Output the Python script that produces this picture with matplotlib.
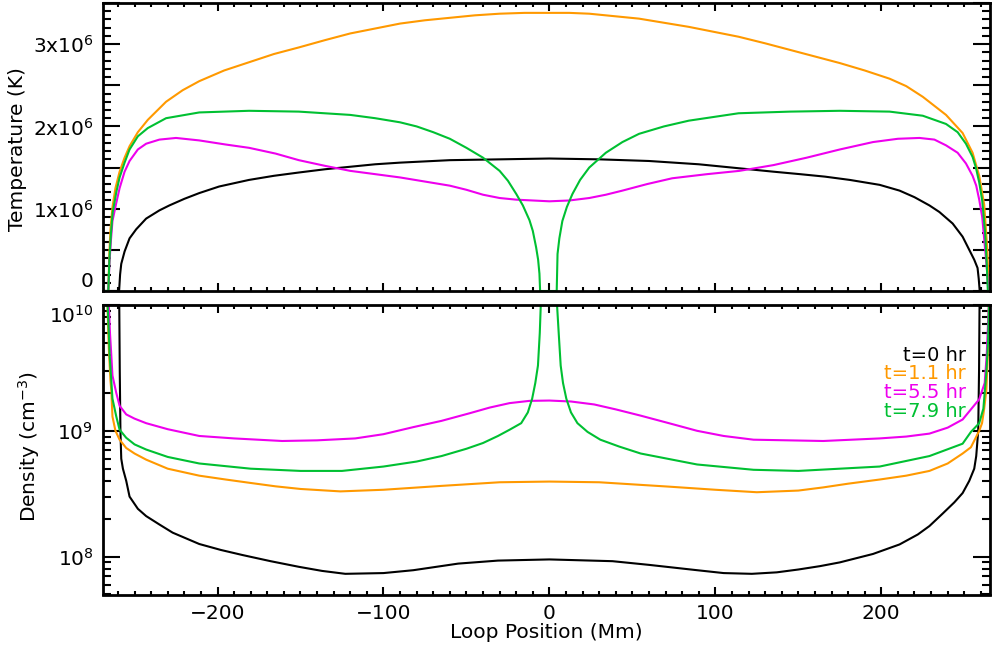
import numpy as np
import matplotlib
matplotlib.use('Agg')
import matplotlib.pyplot as plt
from matplotlib.ticker import MultipleLocator, FuncFormatter, LogLocator, NullFormatter

plt.rcParams['font.family'] = ['DejaVu Sans']
plt.rcParams['mathtext.default'] = 'regular'

# ---- temperature (MK) vs loop position (Mm) ----
x_T_black = [-269, -259.3, -258.7, -258, -256, -253, -249, -243, -235, -229, -220, -211, -199, -181, -166, -151, -135, -120, -105, -90, -60, -30, 0,
             30, 60, 90, 105, 120, 135, 151, 166, 181, 199, 211, 220, 229, 235, 243, 249, 253, 256, 258, 258.7, 259.3, 265.5]
T_black = [0, 0, 0.2, 0.33, 0.48, 0.64, 0.75, 0.88, 0.98, 1.04, 1.12, 1.19, 1.27, 1.35, 1.40, 1.44, 1.48, 1.51, 1.54, 1.56, 1.59, 1.60, 1.61,
           1.60, 1.58, 1.54, 1.51, 1.48, 1.45, 1.42, 1.39, 1.35, 1.29, 1.22, 1.14, 1.04, 0.96, 0.82, 0.66, 0.50, 0.38, 0.28, 0.15, 0, 0]

x_T_orange = [-269, -265.8, -265.2, -264.5, -263.3, -261.5, -259, -256, -253, -248, -242, -231, -221, -211, -196, -181, -166, -151, -135, -120,
              -105, -90, -75, -60, -45, -30, -15, 0, 12, 24, 39, 54, 69, 84, 99, 114, 130, 145, 160, 175, 190, 205, 215, 225, 239, 249,
              255, 259, 262, 263.9, 264.8, 265.5]
T_orange = [0, 0, 0.45, 0.75, 1.02, 1.25, 1.45, 1.62, 1.76, 1.93, 2.08, 2.30, 2.44, 2.55, 2.68, 2.78, 2.88, 2.96, 3.05, 3.13,
            3.19, 3.25, 3.29, 3.32, 3.35, 3.37, 3.38, 3.38, 3.38, 3.37, 3.34, 3.31, 3.26, 3.21, 3.15, 3.09, 3.01, 2.93, 2.85, 2.77, 2.68, 2.58, 2.49, 2.36, 2.14, 1.92,
            1.68, 1.40, 1.05, 0.50, 0, 0]

x_T_magenta = [-269, -265.8, -265.1, -264.2, -263.3, -261, -259, -256, -253, -248, -243, -235, -225, -211, -195, -181, -165, -151, -135, -120,
               -105, -90, -75, -60, -50, -40, -30, -20, -10, 0, 12, 24, 34, 44, 59, 74, 95, 114.5, 135, 155, 175, 195, 210, 223, 232, 239,
               246, 251, 255, 257.2, 259, 260.8, 262.6, 263.9, 264.5, 265.5]
T_magenta = [0, 0, 0.35, 0.62, 0.85, 1.07, 1.25, 1.45, 1.58, 1.72, 1.79, 1.84, 1.86, 1.83, 1.78, 1.74, 1.67, 1.59, 1.52, 1.46,
             1.42, 1.38, 1.33, 1.28, 1.23, 1.17, 1.13, 1.11, 1.10, 1.09, 1.10, 1.13, 1.17, 1.22, 1.30, 1.37, 1.42, 1.46, 1.53, 1.62, 1.72, 1.81, 1.85, 1.86, 1.84, 1.77,
             1.68, 1.55, 1.40, 1.28, 1.11, 0.90, 0.50, 0.20, 0, 0]

x_T_green = [-269, -265.8, -265.1, -264.2, -263.2, -261, -259, -256, -253, -248, -242, -231, -211, -181, -151, -120, -105, -90, -80, -70, -60, -50, -40,
             -30, -25, -20, -16, -12, -10, -8, -6.8, -6.0, -5.6, 4.4, 4.9, 6, 7.8, 10.5, 13.9, 18.5, 24, 34, 44, 54, 69, 84, 114, 145, 175, 205, 225, 239,
             246, 251, 255, 257, 259, 260.8, 262.6, 263.6, 264.2, 265.5]
T_green = [0, 0, 0.4, 0.7, 0.95, 1.2, 1.38, 1.56, 1.72, 1.88, 1.98, 2.10, 2.17, 2.19, 2.18, 2.14, 2.10, 2.05, 2.00, 1.93, 1.85, 1.74, 1.62,
           1.46, 1.34, 1.18, 1.04, 0.86, 0.73, 0.53, 0.38, 0.21, 0, 0, 0.45, 0.64, 0.85, 1.02, 1.18, 1.35, 1.50, 1.68, 1.81, 1.91, 2.00, 2.07, 2.16, 2.18, 2.19, 2.18, 2.13, 2.03,
           1.93, 1.79, 1.63, 1.50, 1.32, 1.10, 0.70, 0.30, 0, 0]

# ---- density (cm^-3) vs loop position (Mm) ----
x_n_black = [-269, -259.5, -259.2, -258.9, -258.5, -258, -257, -255, -253, -248, -243, -235, -227, -211, -198, -185, -168, -151, -137, -123, -100, -82, -55, -31, 0,
             38, 60, 89, 105, 122, 137, 150, 163, 175, 195, 211, 222, 229, 237, 244, 249, 253, 256, 257.2, 258.4, 258.9, 259.2, 265.5]
n_black = [2e11, 2e10, 1e10, 3e9, 1.0e9, 6.0e8, 5.0e8, 4.0e8, 3.0e8, 2.4e8, 2.1e8, 1.8e8, 1.55e8, 1.26e8, 1.13e8, 1.03e8, 9.2e7, 8.3e7, 7.7e7, 7.3e7, 7.4e7, 7.8e7, 8.8e7, 9.3e7, 9.5e7,
           9.2e7, 8.6e7, 7.8e7, 7.4e7, 7.3e7, 7.5e7, 7.9e7, 8.4e7, 9.0e7, 1.05e8, 1.25e8, 1.5e8, 1.75e8, 2.2e8, 2.7e8, 3.2e8, 4.0e8, 5.0e8, 6.3e8, 1.0e9, 3e9, 1e10, 2e11]

x_n_orange = [-269, -266.3, -265.5, -264.5, -264, -263.3, -261.5, -259, -255, -250, -243, -230, -211, -195, -180, -165, -150, -126, -100, -65, -30, 0,
              30, 72, 100, 125, 150, 165, 180, 199, 215, 229, 240, 249, 254, 259, 260.7, 262, 263.3, 264.2, 264.8, 265.5]
n_orange = [1e11, 1e10, 4.5e9, 2.5e9, 2.1e9, 1.3e9, 1.0e9, 8.5e8, 7.3e8, 6.6e8, 5.9e8, 5.0e8, 4.4e8, 4.1e8, 3.85e8, 3.62e8, 3.45e8, 3.3e8, 3.4e8, 3.65e8, 3.9e8, 3.95e8,
            3.9e8, 3.6e8, 3.4e8, 3.25e8, 3.35e8, 3.55e8, 3.8e8, 4.1e8, 4.4e8, 4.8e8, 5.5e8, 6.6e8, 7.4e8, 1.0e9, 1.15e9, 1.5e9, 2.1e9, 4e9, 1e10, 5e10]

x_n_magenta = [-269, -265.5, -264.8, -264, -263.3, -261, -259, -255, -250, -243, -230, -211, -190, -161, -140, -117, -100, -82, -65, -48, -36, -24, -12, 0,
               13, 27, 40, 55, 72, 89, 105, 123, 165, 199, 215, 229, 240, 249, 254, 259, 262.3, 263.5, 264.8, 265.5]
n_magenta = [1e11, 1e10, 6e9, 4e9, 2.75e9, 2.0e9, 1.58e9, 1.35e9, 1.25e9, 1.15e9, 1.03e9, 9.1e8, 8.7e8, 8.3e8, 8.4e8, 8.7e8, 9.4e8, 1.07e9, 1.2e9, 1.38e9, 1.53e9, 1.66e9, 1.73e9, 1.74e9,
             1.71e9, 1.62e9, 1.48e9, 1.32e9, 1.15e9, 1.0e9, 9.1e8, 8.5e8, 8.3e8, 8.7e8, 9.0e8, 9.5e8, 1.06e9, 1.23e9, 1.48e9, 1.78e9, 2.4e9, 4e9, 1e10, 5e10]

x_n_green = [-269, -266.2, -265.5, -265, -264, -263.3, -261, -259, -255, -250, -243, -230, -211, -180, -150, -125, -100, -80, -65, -50, -40, -31, -24, -17, -13, -10.4, -8.5, -6.9, -5.8, -5.2, -5.0,
             4.3, 4.6, 5.6, 6.8, 8.2, 10.2, 13, 16.9, 23, 30.7, 42, 55, 89, 123, 150, 175, 199, 229, 249, 254, 259, 261.5, 263.3, 264.3, 264.9, 265.5]
n_green = [1e11, 1e10, 6e9, 4e9, 2.5e9, 1.8e9, 1.3e9, 1.02e9, 8.8e8, 7.8e8, 7.1e8, 6.2e8, 5.5e8, 5.0e8, 4.8e8, 4.8e8, 5.2e8, 5.7e8, 6.3e8, 7.2e8, 8.0e8, 9.1e8, 1.02e9, 1.15e9, 1.4e9, 1.8e9, 2.4e9, 3.3e9, 6e9, 1e10, 5e10,
           5e10, 1e10, 6e9, 3.3e9, 2.4e9, 1.8e9, 1.4e9, 1.15e9, 9.8e8, 8.5e8, 7.5e8, 6.6e8, 5.4e8, 4.9e8, 4.8e8, 5.0e8, 5.2e8, 6.3e8, 7.9e8, 9.8e8, 1.15e9, 1.5e9, 2.9e9, 5e9, 1e10, 5e10]

labels = ['t=0 hr', 't=1.1 hr', 't=5.5 hr', 't=7.9 hr']
colors = ['black', '#ff9900', '#ee00ee', '#00c032']

fig = plt.figure(figsize=(9.92, 6.55), dpi=100)
ax1 = fig.add_axes([103 / 992, 1 - 291 / 655, 887 / 992, 288 / 655])
ax2 = fig.add_axes([103 / 992, 1 - 594.5 / 655, 887 / 992, 289.5 / 655])

lw = 1.5
ax1.plot(x_T_black, np.array(T_black) * 1e6, color=colors[0], lw=lw)
ax1.plot(x_T_orange, np.array(T_orange) * 1e6, color=colors[1], lw=lw)
ax1.plot(x_T_magenta, np.array(T_magenta) * 1e6, color=colors[2], lw=lw)
ax1.plot(x_T_green, np.array(T_green) * 1e6, color=colors[3], lw=lw)

ax2.plot(x_n_black, n_black, color=colors[0], lw=lw)
ax2.plot(x_n_orange, n_orange, color=colors[1], lw=lw)
ax2.plot(x_n_magenta, n_magenta, color=colors[2], lw=lw)
ax2.plot(x_n_green, n_green, color=colors[3], lw=lw)
ax2.set_yscale('log')

fs_tick = 14.5
fs_lab = 14.5
for ax in [ax1, ax2]:
    ax.set_xlim(-269, 265.5)
    ax.xaxis.set_major_locator(MultipleLocator(100))
    ax.xaxis.set_minor_locator(MultipleLocator(10))
    ax.tick_params(which='both', direction='in', top=True, right=True, width=1.5, labelsize=fs_tick, pad=7)
    ax.tick_params(axis='x', which='major', length=6)
    ax.tick_params(axis='x', which='minor', length=3)
    ax.tick_params(axis='y', which='major', length=12)
    ax.tick_params(axis='y', which='minor', length=6)
    for s in ax.spines.values():
        s.set_linewidth(2)

ax1.set_ylim(0, 3.5e6)
ax1.yaxis.set_major_locator(MultipleLocator(5e5))
ax1.yaxis.set_minor_locator(MultipleLocator(1e5))


def tfmt(v, pos):
    k = int(round(v / 1e6))
    if abs(v - k * 1e6) > 1:
        return ''
    return '0' if k == 0 else r'%dx10$^{6}$' % k


ax1.yaxis.set_major_formatter(FuncFormatter(tfmt))
ax1.set_xticklabels([])
ax1.set_ylabel('Temperature (K)', fontsize=fs_lab)
ax1.yaxis.set_label_coords(-0.086, 0.493)

ax2.set_ylim(5e7, 1e10)
ax2.yaxis.set_major_locator(LogLocator(base=10))
ax2.yaxis.set_minor_locator(LogLocator(base=10, subs=np.arange(2, 10)))
ax2.yaxis.set_minor_formatter(NullFormatter())
ax2.set_ylabel('Density (cm$^{-3}$)', fontsize=fs_lab)
ax2.yaxis.set_label_coords(-0.069, 0.51)
ax2.set_xlabel('Loop Position (Mm)', fontsize=fs_lab)
ax2.xaxis.set_label_coords(0.5, -0.1)

for i, (lab, c) in enumerate(zip(labels, colors)):
    ax2.text(0.973, 0.827 - i * 0.0645, lab, color=c, fontsize=14, ha='right', va='center',
             transform=ax2.transAxes)

# keep the end labels inside their panels, as in the original
fig.canvas.draw()
for t in ax1.yaxis.get_major_ticks():
    if abs(t.get_loc()) < 1:
        t.label1.set_va('bottom')
for t in ax2.yaxis.get_major_ticks():
    if abs(t.get_loc() - 1e10) < 1e6:
        t.label1.set_va('top')

fig.savefig('out.png', dpi=100)
